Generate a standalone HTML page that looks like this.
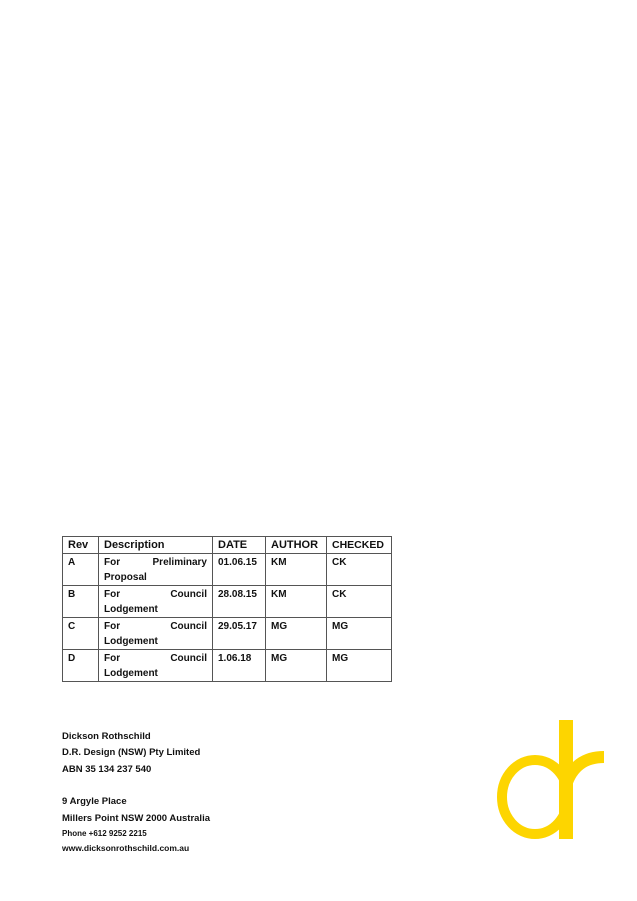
<!DOCTYPE html>
<html><head><style>
body{margin:0;width:637px;height:901px;background:#fff;position:relative;font-family:"Liberation Sans",sans-serif;font-weight:bold;color:#111;overflow:hidden}
table{position:absolute;left:62px;top:536px;border-collapse:collapse;font-size:10px;table-layout:fixed;width:329px}
td{border:1px solid #555;vertical-align:top;padding:1px 5px 0 5px;line-height:15px;height:30px;overflow:hidden}
.h td{font-size:11px;line-height:13px;padding:2px 5px 1px;height:13px}
.d{display:flex;justify-content:space-between}
.t{position:absolute;left:62px;font-size:9.5px;white-space:nowrap}
</style></head><body>
<table>
<colgroup><col style="width:36px"><col style="width:114px"><col style="width:53px"><col style="width:61px"><col style="width:65px"></colgroup>
<tr class="h"><td>Rev</td><td>Description</td><td>DATE</td><td>AUTHOR</td><td style="font-size:10.5px">CHECKED</td></tr>
<tr><td>A</td><td><div class="d"><span>For</span><span>Preliminary</span></div>Proposal</td><td>01.06.15</td><td>KM</td><td>CK</td></tr>
<tr><td>B</td><td><div class="d"><span>For</span><span>Council</span></div>Lodgement</td><td>28.08.15</td><td>KM</td><td>CK</td></tr>
<tr><td>C</td><td><div class="d"><span>For</span><span>Council</span></div>Lodgement</td><td>29.05.17</td><td>MG</td><td>MG</td></tr>
<tr><td>D</td><td><div class="d"><span>For</span><span>Council</span></div>Lodgement</td><td>1.06.18</td><td>MG</td><td>MG</td></tr>
</table>
<div class="t" style="top:731px">Dickson Rothschild</div>
<div class="t" style="top:747px">D.R. Design (NSW) Pty Limited</div>
<div class="t" style="top:764px">ABN 35 134 237 540</div>
<div class="t" style="top:796px">9 Argyle Place</div>
<div class="t" style="top:813px">Millers Point NSW 2000 Australia</div>
<div class="t" style="top:829px;font-size:8px">Phone +612 9252 2215</div>
<div class="t" style="top:843px;font-size:8.5px">www.dicksonrothschild.com.au</div>
<svg style="position:absolute;left:0;top:0" width="637" height="901">
<g fill="none" stroke="#FDD500">
<ellipse cx="535" cy="797" rx="33" ry="37" stroke-width="10"/>
<path d="M566 785 Q575 757 604 757" stroke-width="12"/>
</g>
<rect x="559" y="720" width="14" height="119" fill="#FDD500"/>
</svg>
</body></html>
